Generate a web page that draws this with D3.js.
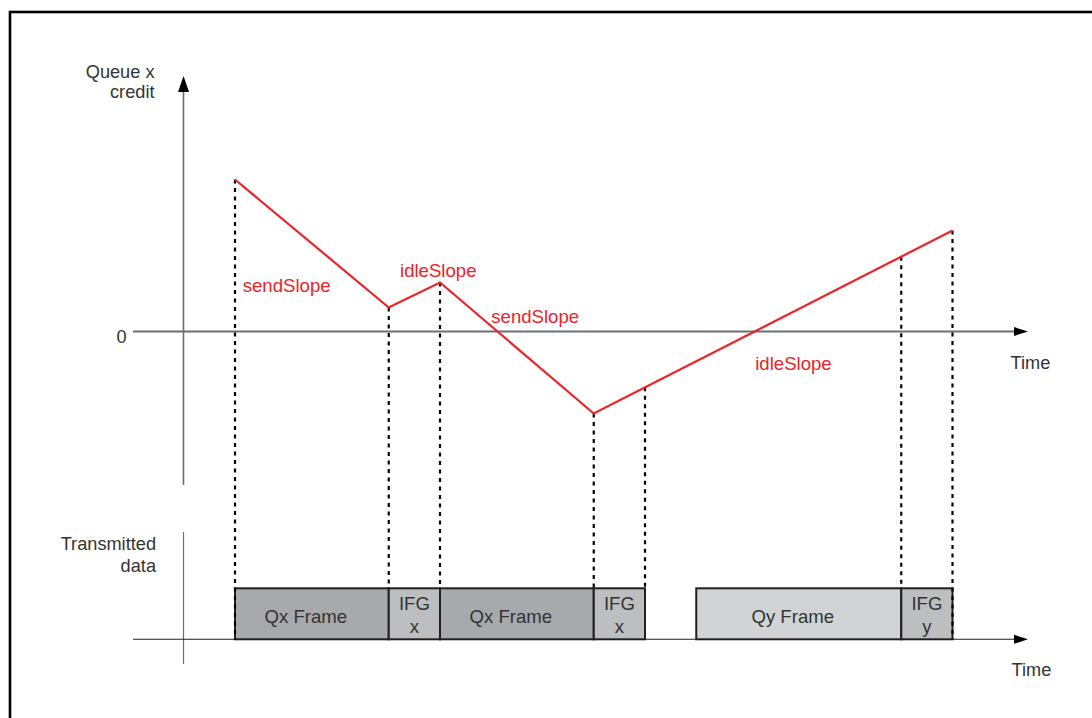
<!DOCTYPE html>
<html>
<head>
<meta charset="utf-8">
<script src="https://cdn.jsdelivr.net/npm/d3@7"></script>
<style>
  html, body { margin: 0; padding: 0; background: #fff; }
  svg { display: block; }
  text { font-family: "Liberation Sans", Arial, Helvetica, sans-serif; }
</style>
</head>
<body>
<svg id="chart" width="1092" height="718"></svg>
<script>
// ---- Data (time in IFG units, credit in arbitrary units) ----
const creditTimes  = [0, 3, 4, 7, 14];
const creditValues = [152, 24, 49, -82, 101];
const markerTimes  = [0, 3, 4, 7, 8, 13, 14];

const frameLabels = ["Qx Frame", "IFG\nx", "Qx Frame", "IFG\nx", "Qy Frame", "IFG\ny"];
const frameStarts = [0, 3, 4, 7, 9, 13];
const frameEnds   = [3, 4, 7, 8, 13, 14];
const frameKinds  = ["qx", "ifg", "qx", "ifg", "qy", "ifg"];

const slopeLabels = ["sendSlope", "idleSlope", "sendSlope", "idleSlope"];
const slopeLabelTimes  = [0.15, 3.22, 5.0, 10.15];
const slopeLabelValues = [40, 55, 9, -38];

const yAxisTitle = ["Queue x", "credit"];
const dataAxisTitle = ["Transmitted", "data"];
const timeLabel = "Time";
const zeroLabel = "0";

// ---- Scales ----
const x = d3.scaleLinear().domain([0, 14]).range([235, 952.5]);
const y = d3.scaleLinear().domain([-100, 200]).range([431.5, 131.5]);

const svg = d3.select("#chart");
const red = "#ec2329";
const textCol = "#333333";
const fills = { qx: "#a7a9ac", ifg: "#bcbec0", qy: "#d1d3d4" };

// frame border
svg.append("rect").attr("x", 10).attr("y", 12).attr("width", 1200).attr("height", 800)
  .attr("fill", "none").attr("stroke", "#000").attr("stroke-width", 2.6);

// ---- Upper axes ----
const axisX = 183.5;
const y0 = y(0);
svg.append("line").attr("x1", axisX).attr("x2", axisX).attr("y1", 90).attr("y2", 485)
  .attr("stroke", "#6d6e71").attr("stroke-width", 1.6);
svg.append("path").attr("d", `M${axisX},76 L${axisX - 5.5},92 L${axisX + 5.5},92 Z`).attr("fill", "#000");
svg.append("line").attr("x1", 133).attr("x2", 1015).attr("y1", y0).attr("y2", y0)
  .attr("stroke", "#6d6e71").attr("stroke-width", 1.8);
svg.append("path").attr("d", `M1028,${y0} L1014,${y0 - 4.5} L1014,${y0 + 4.5} Z`).attr("fill", "#000");

// ---- Lower axes ----
const baseY = 639.3, barTop = 588.3;
svg.append("line").attr("x1", axisX).attr("x2", axisX).attr("y1", 532).attr("y2", 664)
  .attr("stroke", "#6d6e71").attr("stroke-width", 1.2);
svg.append("line").attr("x1", 133).attr("x2", 1015).attr("y1", baseY).attr("y2", baseY)
  .attr("stroke", "#231f20").attr("stroke-width", 1.1);
svg.append("path").attr("d", `M1028,${baseY} L1014,${baseY - 4.5} L1014,${baseY + 4.5} Z`).attr("fill", "#000");

// ---- Bars ----
const frames = frameLabels.map((l, i) => ({ label: l, s: frameStarts[i], e: frameEnds[i], k: frameKinds[i] }));
svg.selectAll("rect.frame").data(frames).enter().append("rect").attr("class", "frame")
  .attr("x", d => x(d.s)).attr("y", barTop)
  .attr("width", d => x(d.e) - x(d.s)).attr("height", baseY - barTop)
  .attr("fill", d => fills[d.k]).attr("stroke", "#231f20").attr("stroke-width", 2);

const fl = svg.selectAll("text.frame").data(frames).enter().append("text").attr("class", "frame")
  .attr("text-anchor", "middle").attr("fill", textCol).attr("font-size", 18.6);
fl.each(function (d) {
  const lines = d.label.split("\n");
  const t = d3.select(this);
  const cx = (x(d.s) + x(d.e)) / 2;
  if (lines.length === 1) {
    t.append("tspan").attr("x", cx - 6).attr("y", 622.5).text(lines[0]);
  } else {
    t.append("tspan").attr("x", cx).attr("y", 610).text(lines[0]);
    t.append("tspan").attr("x", cx).attr("y", 632.5).text(lines[1]);
  }
});

// ---- Dashed markers ----
const curve = d3.scaleLinear().domain(creditTimes).range(creditValues);
svg.selectAll("line.marker").data(markerTimes).enter().append("line").attr("class", "marker")
  .attr("x1", d => x(d)).attr("x2", d => x(d))
  .attr("y1", d => y(curve(d)))
  .attr("y2", (d, i) => (i === 0 || i === markerTimes.length - 1) ? baseY : barTop)
  .attr("stroke", "#000").attr("stroke-width", 2.2).attr("stroke-dasharray", "4,4.5");

// ---- Credit line ----
const pts = creditTimes.map((t, i) => [t, creditValues[i]]);
svg.append("path").datum(pts)
  .attr("d", d3.line().x(d => x(d[0])).y(d => y(d[1])))
  .attr("fill", "none").attr("stroke", red).attr("stroke-width", 2.2).attr("stroke-linejoin", "miter");

// ---- Slope labels ----
svg.selectAll("text.slope").data(slopeLabels).enter().append("text").attr("class", "slope")
  .attr("x", (d, i) => x(slopeLabelTimes[i])).attr("y", (d, i) => y(slopeLabelValues[i]))
  .attr("fill", red).attr("font-size", 18.6).text(d => d);

// ---- Axis titles ----
const t1 = svg.append("text").attr("text-anchor", "end").attr("fill", textCol).attr("font-size", 18.2);
yAxisTitle.forEach((s, i) => t1.append("tspan").attr("x", 154.5).attr("y", 77.5 + i * 20.8).text(s));
const t2 = svg.append("text").attr("text-anchor", "end").attr("fill", textCol).attr("font-size", 18.2);
dataAxisTitle.forEach((s, i) => t2.append("tspan").attr("x", 156).attr("y", 550 + i * 21.5).text(s));

svg.append("text").attr("x", 126.5).attr("y", 342.5).attr("text-anchor", "end")
  .attr("fill", textCol).attr("font-size", 18.2).text(zeroLabel);
svg.append("text").attr("x", 1010.5).attr("y", 368.5).attr("fill", textCol).attr("font-size", 18.2).text(timeLabel);
svg.append("text").attr("x", 1011.5).attr("y", 676).attr("fill", textCol).attr("font-size", 18.2).text(timeLabel);
</script>
</body>
</html>
